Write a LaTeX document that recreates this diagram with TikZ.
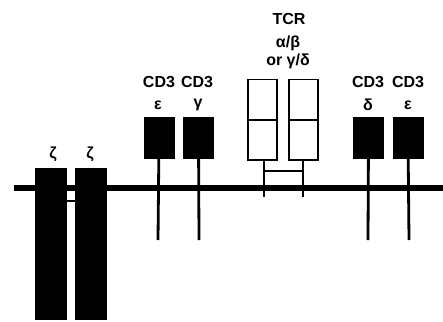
\documentclass[tikz,border=0pt]{standalone}
\usepackage{fontspec}
\setmainfont{Liberation Sans}
\begin{document}
\begin{tikzpicture}[x=1pt,y=-1pt, every node/.style={font=\bfseries\fontsize{16}{17}\selectfont,inner sep=0pt}]
\useasboundingbox (0,0) rectangle (443,321);
\tikzset{cdbox/.style={fill=black,minimum width=31pt,minimum height=42pt},
  zetabox/.style={fill=black,minimum width=32pt,minimum height=152pt},
  tcrbox/.style={draw,line width=1.4pt,minimum width=29pt,minimum height=40pt},
  stem/.style={line width=2.8pt}}
% membrane
\coordinate (mL) at (14,188);
\coordinate (mR) at (443,188);
\draw[line width=6pt] (mL) -- (mR);
% zeta chains
\node[zetabox] (zl) at (51,244) {};
\node[zetabox] (zr) at (91,244) {};
\coordinate (zb) at (71,201);
\draw[stem] (zl.east |- zb) -- (zr.west |- zb);
\node (zlt) at (53,154) {ζ};
\node (zrt) at (90,154) {ζ};
% CD3 epsilon/gamma
\node[cdbox] (e1) at (159,138) {};
\node[cdbox] (g1) at (198.5,138) {};
\coordinate (e1b) at (158,240);
\coordinate (g1b) at (199,240);
\draw[stem] (e1) -- (e1b);
\draw[stem] (g1) -- (g1b);
\node (c1) at (159,82) {CD3};
\node (c2) at (197,82) {CD3};
\node (e1t) at (158,105) {ε};
\node (g1t) at (198,105) {γ};
% TCR
\node[tcrbox] (ta1) at (262.5,99.5) {};
\node[tcrbox] (ta2) at (262.5,140) {};
\node[tcrbox] (tb1) at (303.5,99.5) {};
\node[tcrbox] (tb2) at (303.5,140) {};
\coordinate (tab) at (264,197);
\coordinate (tbb) at (303,197);
\draw[stem] (ta2.south -| tab) -- (tab);
\draw[stem] (tb2.south -| tbb) -- (tbb);
\coordinate (tx) at (280,171);
\draw[stem] (tab |- tx) -- (tbb |- tx);
\node (tcr) at (289,19) {TCR};
\node (tcr2) at (288,43) {α/β};
\node (tcr3) at (288,61) {or γ/δ};
% CD3 delta/epsilon
\node[cdbox] (d2) at (368.5,138) {};
\node[cdbox] (e2) at (408,138) {};
\coordinate (d2b) at (368,240);
\coordinate (e2b) at (409,240);
\draw[stem] (d2) -- (d2b);
\draw[stem] (e2) -- (e2b);
\node (c3) at (368,82) {CD3};
\node (c4) at (408,82) {CD3};
\node (d2t) at (368,105) {δ};
\node (e2t) at (408,105) {ε};
\end{tikzpicture}
\end{document}
